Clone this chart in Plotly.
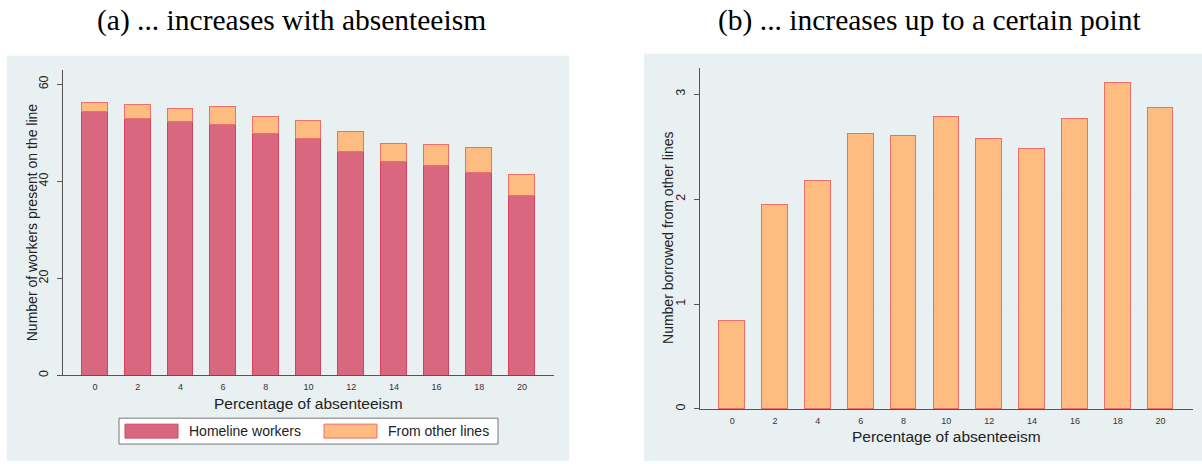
import plotly.graph_objects as go

# ---- data ----
absenteeism = [0, 2, 4, 6, 8, 10, 12, 14, 16, 18, 20]
homeline_workers = [54.3, 52.9, 52.2, 51.7, 49.9, 48.7, 46.2, 44.1, 43.3, 41.8, 37.0]
from_other_lines = [1.8, 2.8, 2.8, 3.6, 3.4, 3.8, 4.0, 3.7, 4.2, 5.2, 4.4]
borrowed = [0.84, 1.94, 2.17, 2.62, 2.60, 2.78, 2.57, 2.48, 2.76, 3.11, 2.87]
left_yticks = [0, 20, 40, 60]
right_yticks = [0, 1, 2, 3]

W, H = 1202, 464
def px(x): return x / W
def py(y): return 1 - y / H

RED_FILL = "#D9677F"
RED_LINE = "#D2425F"
ORG_FILL = "#FEBC80"
ORG_LINE = "#EA6F6A"
BG = "#E9F0F2"
GRID = "#E6EEF1"
AXIS = "#555555"
TXT = "#222222"

fig = go.Figure()
fig.add_trace(go.Bar(x=absenteeism, y=homeline_workers, name="Homeline workers",
                     width=1.2, marker=dict(color=RED_FILL, line=dict(color=RED_LINE, width=1)),
                     xaxis="x", yaxis="y", showlegend=False))
fig.add_trace(go.Bar(x=absenteeism, y=from_other_lines, name="From other lines",
                     width=1.2, marker=dict(color=ORG_FILL, line=dict(color=ORG_LINE, width=1)),
                     xaxis="x", yaxis="y", showlegend=False))
fig.add_trace(go.Bar(x=absenteeism, y=borrowed, name="Number borrowed",
                     width=1.2, marker=dict(color=ORG_FILL, line=dict(color=ORG_LINE, width=1)),
                     xaxis="x2", yaxis="y2", showlegend=False))

xcommon = dict(range=[-1.5, 21.5], tickvals=absenteeism, ticks="", showgrid=False,
               showline=True, linecolor=AXIS, linewidth=1, zeroline=False,
               tickfont=dict(family="Liberation Sans, Arial", size=9, color="#333333"),
               ticklabelstandoff=3)
ycommon = dict(ticks="outside", ticklen=5, tickcolor=AXIS, tickwidth=1, tickangle=-90,
               showline=True, linecolor=AXIS, linewidth=1, zeroline=False,
               showgrid=True, gridcolor=GRID, gridwidth=1,
               tickfont=dict(family="Liberation Sans, Arial", size=12.5, color=TXT),
               ticklabelstandoff=4)

fig.update_layout(
    width=W, height=H,
    margin=dict(l=0, r=0, t=0, b=0),
    paper_bgcolor="white", plot_bgcolor="white",
    barmode="stack", bargap=0,
    xaxis=dict(domain=[px(63), px(554)], anchor="y", **xcommon),
    yaxis=dict(domain=[py(377), py(70)], anchor="x", range=[0, 63], tickvals=left_yticks, **ycommon),
    xaxis2=dict(domain=[px(700), px(1192.7)], anchor="y2", **xcommon),
    yaxis2=dict(domain=[py(410.7), py(68.3)], anchor="x2", range=[0, 3.25], tickvals=right_yticks, **ycommon),
)

shapes = [
    dict(type="rect", xref="paper", yref="paper", x0=px(7), x1=px(569), y0=py(463), y1=py(56),
         fillcolor=BG, line=dict(width=0), layer="below"),
    dict(type="rect", xref="paper", yref="paper", x0=px(644), x1=1.0, y0=py(463), y1=py(54),
         fillcolor=BG, line=dict(width=0), layer="below"),
    # legend box
    dict(type="rect", xref="paper", yref="paper", x0=px(119), x1=px(498), y0=py(446), y1=py(420),
         fillcolor="white", line=dict(color="#777777", width=1)),
    dict(type="rect", xref="paper", yref="paper", x0=px(125), x1=px(178), y0=py(440), y1=py(426),
         fillcolor=RED_FILL, line=dict(color=RED_LINE, width=1)),
    dict(type="rect", xref="paper", yref="paper", x0=px(324), x1=px(377), y0=py(440), y1=py(426),
         fillcolor=ORG_FILL, line=dict(color=ORG_LINE, width=1)),
]
fig.update_layout(shapes=shapes)

sans = "Liberation Sans, Arial"
serif = "Liberation Serif, Times New Roman"
ann = [
    dict(text="(a) ... increases with absenteeism", x=px(291), y=py(21), font=dict(family=serif, size=29.5, color="black")),
    dict(text="(b) ... increases up to a certain point", x=px(929.5), y=py(21), font=dict(family=serif, size=29.5, color="black")),
    dict(text="Number of workers present on the line", x=px(31.7), y=py(223.5), textangle=-90,
         font=dict(family=sans, size=14, color=TXT)),
    dict(text="Number borrowed from other lines", x=px(668), y=py(239), textangle=-90,
         font=dict(family=sans, size=14, color=TXT)),
    dict(text="Percentage of absenteeism", x=px(308.5), y=py(405), font=dict(family=sans, size=15.5, color=TXT)),
    dict(text="Percentage of absenteeism", x=px(946), y=py(438), font=dict(family=sans, size=15.5, color=TXT)),
    dict(text="Homeline workers", x=px(186.5), y=py(433), xanchor="left", font=dict(family=sans, size=14, color=TXT)),
    dict(text="From other lines", x=px(386), y=py(433), xanchor="left", font=dict(family=sans, size=14, color=TXT)),
]
for a in ann:
    a.setdefault("xanchor", "center")
    a.update(xref="paper", yref="paper", yanchor="middle", showarrow=False)
fig.update_layout(annotations=ann)

fig.write_html("out.html", config={"displayModeBar": False},
               post_script="document.body.style.margin='0';")
